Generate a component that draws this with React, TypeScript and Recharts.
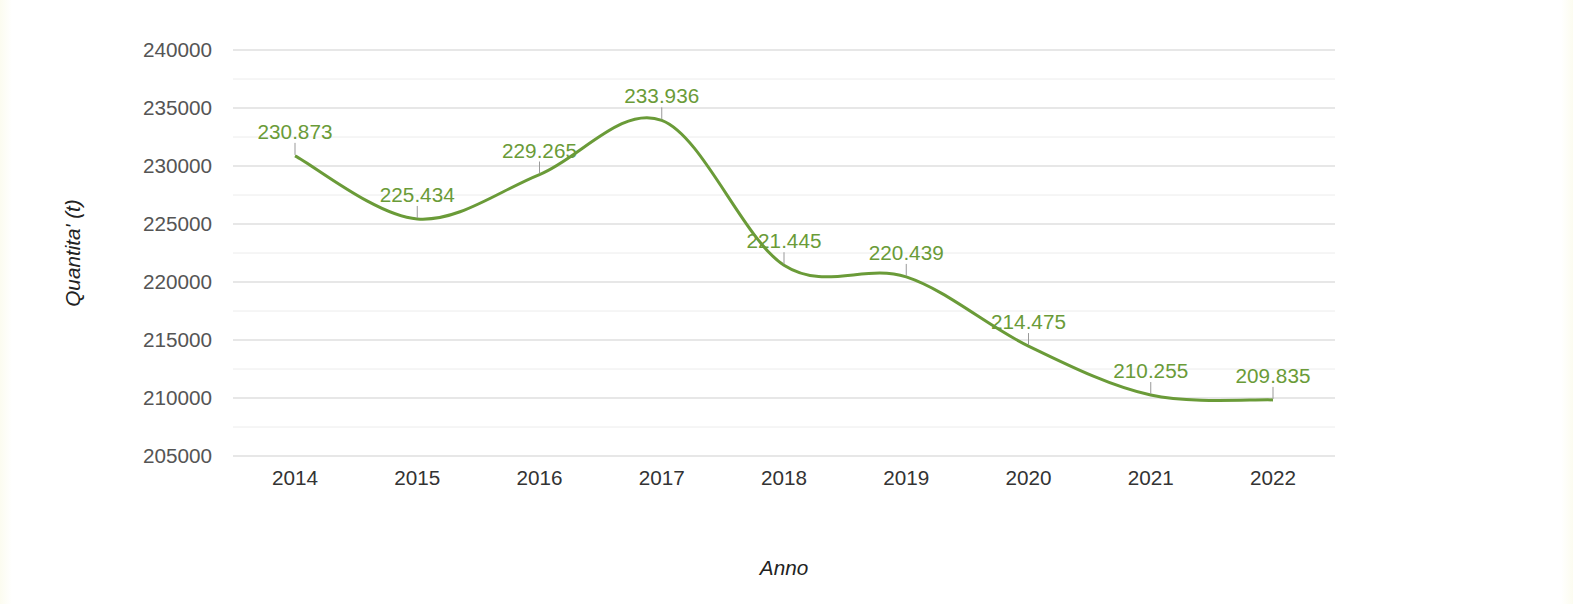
import React from 'react';
import { LineChart, Line, XAxis, YAxis, CartesianGrid, ReferenceLine, LabelList, Label } from 'recharts';

const years = ['2014', '2015', '2016', '2017', '2018', '2019', '2020', '2021', '2022'];
const quantities = [230873, 225434, 229265, 233936, 221445, 220439, 214475, 210255, 209835];
const majorTicks = [205000, 210000, 215000, 220000, 225000, 230000, 235000, 240000];
const minorTicks = [207500, 212500, 217500, 222500, 227500, 232500, 237500];

const data = years.map((year, i) => ({ year, value: quantities[i] }));

const font = 'Liberation Sans, Arial, sans-serif';
const fs = 20.7;

// thousands with a dot, like the original labels
const formatIt = (v: number) => String(v).replace(/\B(?=(\d{3})+(?!\d))/g, '.');

// Catmull-Rom style curve, so the line overshoots like the original
const smoothCurve = (context: any) => {
  let pts: [number, number][] = [];
  return {
    areaStart() {},
    areaEnd() {},
    lineStart() {
      pts = [];
    },
    point(x: number, y: number) {
      pts.push([+x, +y]);
    },
    lineEnd() {
      if (!pts.length) return;
      context.moveTo(pts[0][0], pts[0][1]);
      for (let i = 0; i < pts.length - 1; i++) {
        const p0 = pts[i - 1] || pts[i];
        const p1 = pts[i];
        const p2 = pts[i + 1];
        const p3 = pts[i + 2] || pts[i + 1];
        context.bezierCurveTo(
          p1[0] + (p2[0] - p0[0]) / 6,
          p1[1] + (p2[1] - p0[1]) / 6,
          p2[0] - (p3[0] - p1[0]) / 6,
          p2[1] - (p3[1] - p1[1]) / 6,
          p2[0],
          p2[1]
        );
      }
    },
  };
};

const green = '#6a9b38';

const ValueLabel = (props: any) => {
  const { x, y, value } = props;
  return (
    <g>
      <line x1={x} y1={y - 1} x2={x} y2={y - 13} stroke="#999" strokeWidth={1} />
      <text x={x} y={y - 17} textAnchor="middle" fill={green} fontSize={fs} fontFamily={font}>
        {formatIt(value)}
      </text>
    </g>
  );
};

const YTitle = (props: any) => {
  const { viewBox } = props;
  const cx = viewBox.x + 72;
  const cy = viewBox.y + viewBox.height / 2;
  return (
    <text x={cx} y={cy} transform={`rotate(-90 ${cx} ${cy})`} textAnchor="middle" dominantBaseline="central"
      fill="#222" fontSize={fs} fontStyle="italic" fontFamily={font}>
      Quantita' (t)
    </text>
  );
};

export default function App() {
  return (
    <div style={{ position: 'absolute', left: 0, top: 0, width: 1573, height: 604, background: 'linear-gradient(to right, #fcfcf0 0px, #ffffff 12px, #ffffff 1561px, #fcfcf0 1573px)' }}>
      <LineChart width={1573} height={604} data={data} margin={{ top: 50, right: 238, bottom: 0, left: 0 }}>
        <CartesianGrid vertical={false} stroke="#cfcfcf" />
        {minorTicks.map((t) => (
          <ReferenceLine key={t} y={t} stroke="#ececec" strokeWidth={1} />
        ))}
        <XAxis
          dataKey="year"
          height={148}
          axisLine={false}
          tickLine={false}
          tickMargin={8}
          padding={{ left: 62, right: 62 }}
          tick={{ fill: '#333', fontSize: fs, fontFamily: font }}
        >
          <Label value="Anno" position="insideBottom" offset={29} fill="#222" fontSize={fs} fontStyle="italic" fontFamily={font} />
        </XAxis>
        <YAxis
          width={233}
          domain={[205000, 240000]}
          ticks={majorTicks}
          axisLine={false}
          tickLine={false}
          tickMargin={15}
          tick={{ fill: '#555', fontSize: fs, fontFamily: font }}
        >
          <Label content={<YTitle />} />
        </YAxis>
        <Line
          type={smoothCurve as any}
          dataKey="value"
          stroke={green}
          strokeWidth={3}
          dot={false}
          activeDot={false}
          isAnimationActive={false}
        >
          <LabelList dataKey="value" content={<ValueLabel />} />
        </Line>
      </LineChart>
    </div>
  );
}
